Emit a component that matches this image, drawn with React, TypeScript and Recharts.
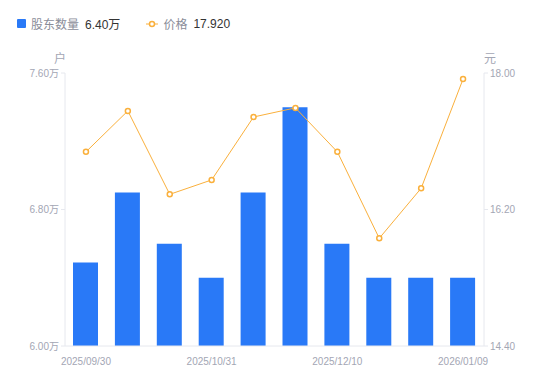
import { ComposedChart, Bar, Line, XAxis, YAxis } from "recharts";

const dates = [
  "2025/09/30", "2025/10/10", "2025/10/20", "2025/10/31", "2025/11/10",
  "2025/11/20", "2025/12/10", "2025/12/19", "2025/12/31", "2026/01/09",
];
const holders = [6.49, 6.9, 6.6, 6.4, 6.9, 7.4, 6.6, 6.4, 6.4, 6.4];
const prices = [16.96, 17.5, 16.4, 16.59, 17.42, 17.54, 16.96, 15.82, 16.48, 17.92];
const xTicks = ["2025/09/30", "2025/10/31", "2025/12/10", "2026/01/09"];
const leftTicks = [6.0, 6.8, 7.6];
const rightTicks = [14.4, 16.2, 18.0];

const FONT = "'Liberation Sans', 'Noto Sans CJK SC', sans-serif";
const BLUE = "#2979f7";
const ORANGE = "#fab03c";
const GRAY = "#a3a6b4";

const App = () => {
  const data = dates.map((d, i) => ({ date: d, holders: holders[i], price: prices[i] }));
  return (
    <div style={{ position: "absolute", left: 0, top: 0, width: 550, height: 381, fontFamily: FONT }}>
      <div style={{ position: "absolute", left: 17, top: 15, display: "flex", alignItems: "center", fontSize: 12, color: "#333" }}>
        <span style={{ width: 9, height: 9, background: BLUE, borderRadius: 1, marginRight: 5 }} />
        <span style={{ color: "#8a8d99", marginRight: 6 }}>股东数量</span>
        <span style={{ marginRight: 26 }}>6.40万</span>
        <svg width={12} height={8} style={{ marginRight: 5 }}>
          <line x1={0} y1={4} x2={12} y2={4} stroke={ORANGE} strokeWidth={1} />
          <circle cx={6} cy={4} r={2.5} fill="#fff" stroke={ORANGE} strokeWidth={1.5} />
        </svg>
        <span style={{ color: "#8a8d99", marginRight: 6 }}>价格</span>
        <span>17.920</span>
      </div>
      <div style={{ position: "absolute", left: 54, top: 49, fontSize: 12, color: GRAY }}>户</div>
      <div style={{ position: "absolute", left: 484, top: 49, fontSize: 12, color: GRAY }}>元</div>
      <ComposedChart width={550} height={381} data={data} margin={{ top: 73, right: 0, bottom: 15, left: 0 }} barCategoryGap={0}>
        <XAxis
          dataKey="date"
          ticks={xTicks}
          interval={0}
          height={20}
          tickLine={false}
          axisLine={{ stroke: "#e6e8ee" }}
          tick={{ fill: GRAY, fontSize: 10, fontFamily: FONT }}
          tickMargin={6}
        />
        <YAxis
          yAxisId="left"
          orientation="left"
          width={65}
          domain={[6.0, 7.6]}
          ticks={leftTicks}
          tickFormatter={(v: number) => v.toFixed(2) + "万"}
          axisLine={{ stroke: "#e6e8ee" }}
          tickLine={{ stroke: "#e6e8ee" }}
          tickSize={4}
          tick={{ fill: GRAY, fontSize: 10, fontFamily: FONT }}
        />
        <YAxis
          yAxisId="right"
          orientation="right"
          width={66}
          domain={[14.4, 18.0]}
          ticks={rightTicks}
          tickFormatter={(v: number) => v.toFixed(2)}
          axisLine={{ stroke: "#e6e8ee" }}
          tickLine={{ stroke: "#e6e8ee" }}
          tickSize={4}
          tick={{ fill: GRAY, fontSize: 10, fontFamily: FONT }}
        />
        <Bar yAxisId="left" dataKey="holders" fill={BLUE} barSize={25} isAnimationActive={false} />
        <Line
          yAxisId="right"
          dataKey="price"
          stroke={ORANGE}
          strokeWidth={1}
          dot={{ r: 2.5, fill: "#fff", stroke: ORANGE, strokeWidth: 1.5 }}
          activeDot={false}
          isAnimationActive={false}
        />
      </ComposedChart>
    </div>
  );
};

export default App;
